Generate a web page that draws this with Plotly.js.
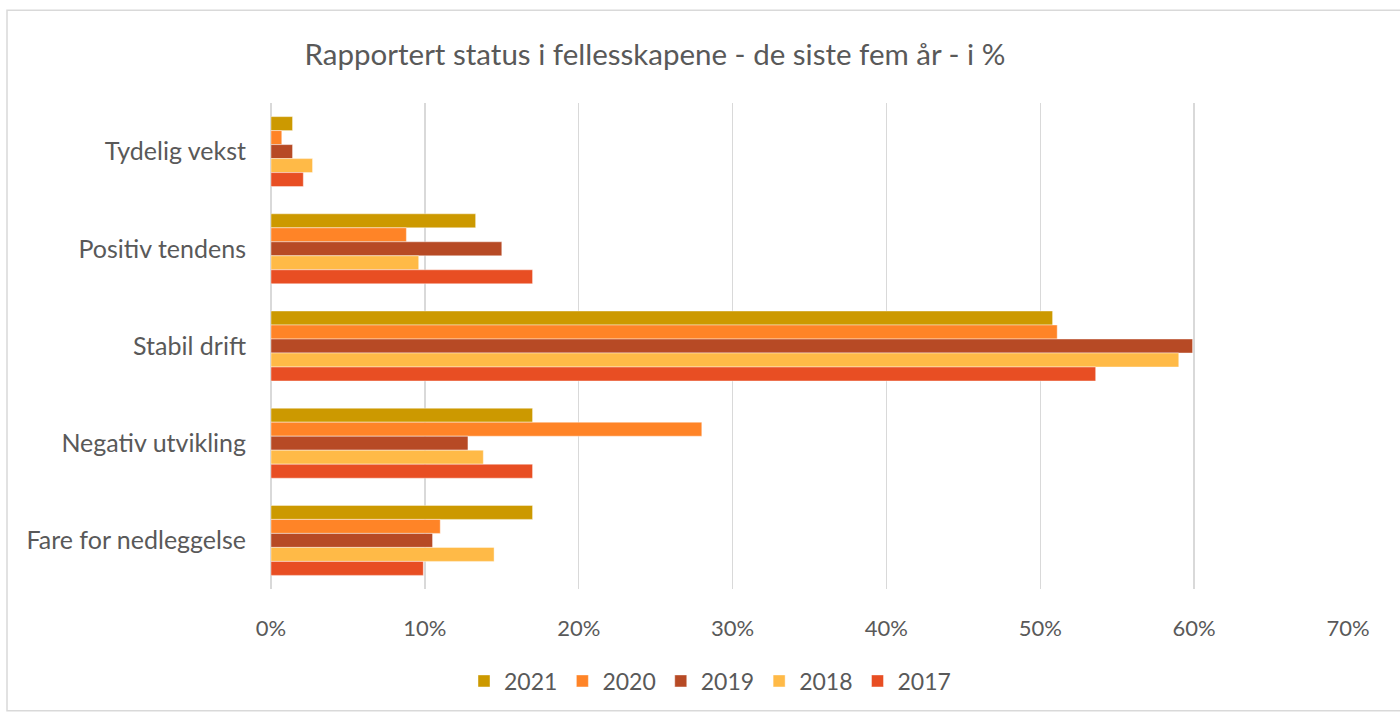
<!DOCTYPE html>
<html>
<head>
<meta charset="utf-8">
<script src="https://cdn.plot.ly/plotly-3.0.1.min.js"></script>
<style>
  html, body { margin: 0; padding: 0; background: #fff; }
  #chart { width: 1400px; height: 713px; }
</style>
</head>
<body>
<div id="chart"></div>
<script>
// Categories (top to bottom)
const categories = ["Tydelig vekst", "Positiv tendens", "Stabil drift", "Negativ utvikling", "Fare for nedleggelse"];
// Series values, percent
const years = ["2021", "2020", "2019", "2018", "2017"];
const v2021 = [1.4, 13.3, 50.8, 17.0, 17.0];
const v2020 = [0.7, 8.8, 51.1, 28.0, 11.0];
const v2019 = [1.4, 15.0, 59.9, 12.8, 10.5];
const v2018 = [2.7, 9.6, 59.0, 13.8, 14.5];
const v2017 = [2.1, 17.0, 53.6, 17.0, 9.9];
const seriesValues = [v2021, v2020, v2019, v2018, v2017];
const colors = ["#CC9900", "#FF8427", "#B74A25", "#FFBA47", "#E84E23"];
// Tick labels
const tickVals = [0, 10, 20, 30, 40, 50, 60, 70];
const tickText = ["0%", "10%", "20%", "30%", "40%", "50%", "60%", "70%"];

const font = "Lato, Open Sans, sans-serif";
const traces = years.map((y, i) => ({
  type: "bar",
  orientation: "h",
  name: y,
  x: seriesValues[i],
  y: categories,
  marker: { color: colors[i], line: { color: "rgba(255,255,255,0.6)", width: 0.7 } },
  hoverinfo: "x+y+name"
}));

// pixel -> paper helpers for the outer chart border
const L = 271, R = 52, T = 103, B = 123, W = 1400, H = 713;
const pw = W - L - R, ph = H - T - B;
const px = v => (v - L) / pw;
const py = v => (H - B - v) / ph;

const layout = {
  width: W, height: H,
  margin: { l: L, r: R, t: T, b: B, pad: 0 },
  paper_bgcolor: "#fff",
  plot_bgcolor: "#fff",
  barmode: "group",
  bargap: 0.28,
  bargroupgap: 0,
  font: { family: font, color: "#595959" },
  title: {
    text: "Rapportert status i fellesskapene - de siste fem år - i %",
    font: { family: font, size: 29.5, color: "#595959" },
    xref: "container", x: 655 / W, xanchor: "center",
    yref: "container", y: 1 - 55 / H, yanchor: "middle"
  },
  xaxis: {
    range: [0, 70],
    tickvals: tickVals,
    ticktext: tickText,
    showgrid: true,
    gridcolor: "#D9D9D9",
    gridwidth: 1.5,
    zeroline: true,
    zerolinecolor: "#D9D9D9",
    zerolinewidth: 1.5,
    showline: false,
    ticks: "",
    ticklabelstandoff: 24,
    tickfont: { family: font, size: 22, color: "#595959" },
    fixedrange: true
  },
  yaxis: {
    autorange: "reversed",
    showgrid: false,
    zeroline: false,
    showline: false,
    ticks: "",
    ticklabelstandoff: 24,
    tickfont: { family: font, size: 25, color: "#595959" },
    fixedrange: true
  },
  legend: {
    orientation: "h",
    x: px(710), xanchor: "center",
    y: py(681), yanchor: "middle",
    font: { family: font, size: 23, color: "#595959" },
    itemwidth: 30,
    traceorder: "normal"
  },
  shapes: [{
    type: "rect", xref: "paper", yref: "paper",
    x0: px(7), x1: px(1410), y0: py(712), y1: py(10),
    line: { color: "#D9D9D9", width: 1.5 },
    fillcolor: "rgba(0,0,0,0)", layer: "below"
  }],
  showlegend: true
};

Plotly.newPlot("chart", traces, layout, { displayModeBar: false, staticPlot: true });
</script>
</body>
</html>
